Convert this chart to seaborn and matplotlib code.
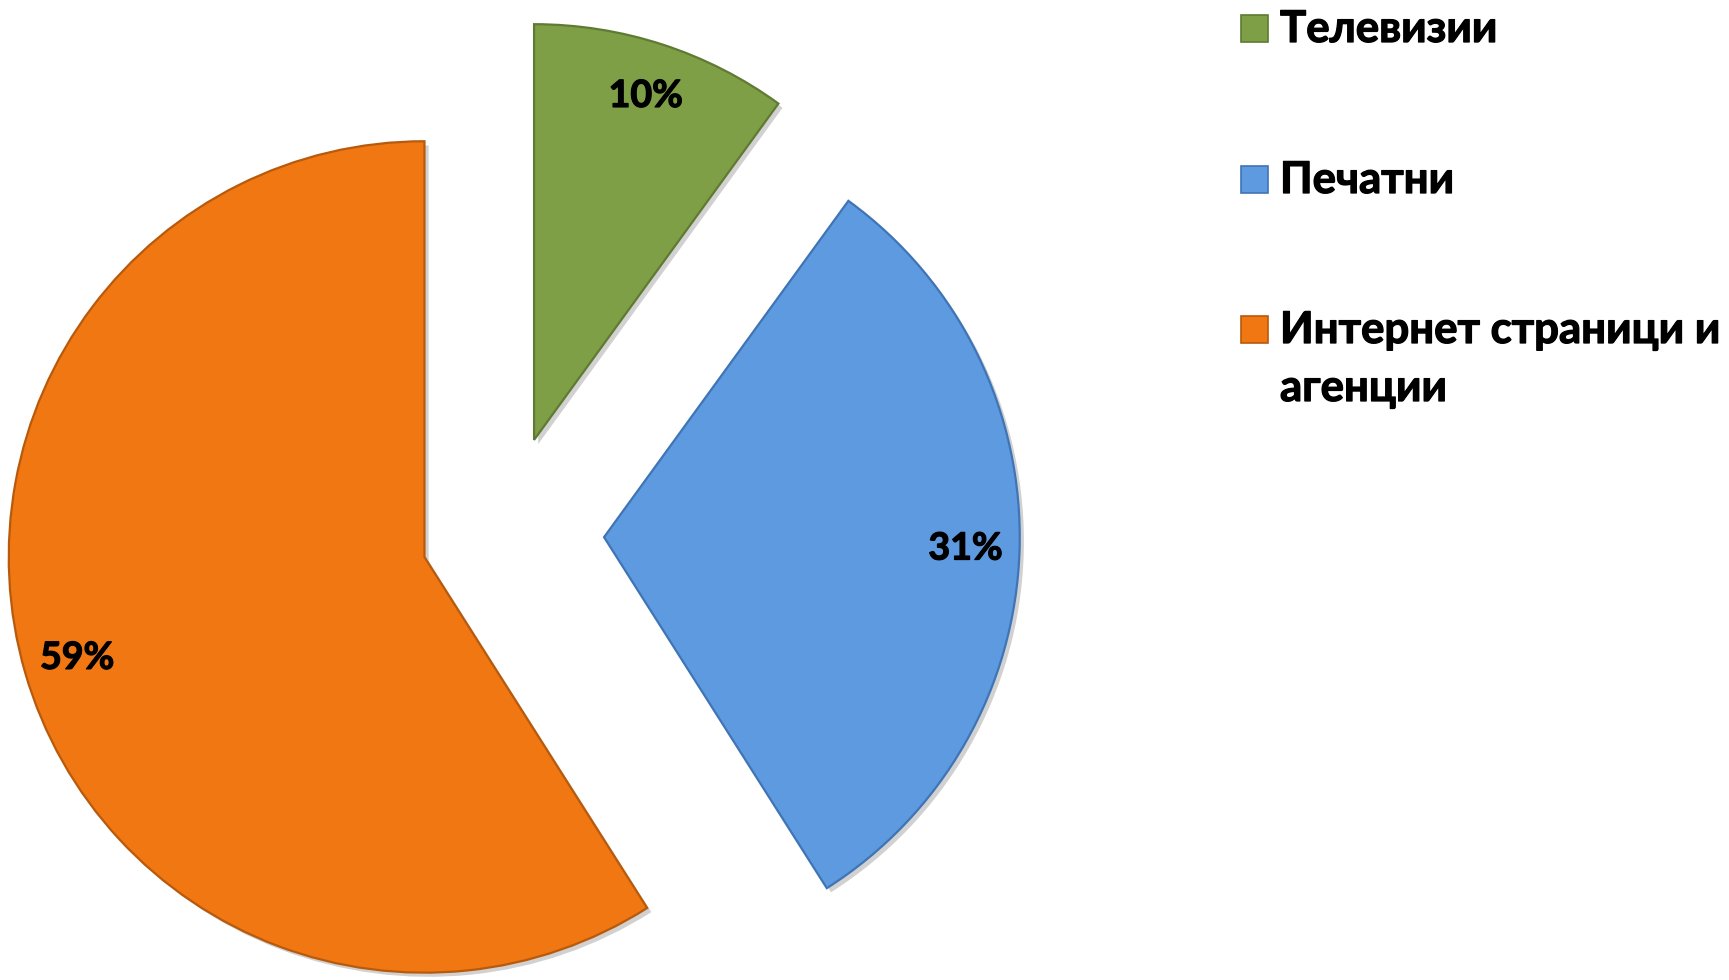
import textwrap
import matplotlib
matplotlib.use("Agg")
import matplotlib.pyplot as plt
import matplotlib.patheffects as pe
from matplotlib.patches import Rectangle
import seaborn as sns

# Media types and their shares (%)
categories = ["Телевизии", "Печатни", "Интернет страници и агенции"]
shares = [10, 31, 59]
colors = ["#7f9f47", "#5e9ae0", "#f07712"]
edge_colors = ["#5f7a32", "#3f74b5", "#b85a0c"]
explode = [0.238, 0.242, 0.198]

sns.set_theme(style="white")
plt.rcParams["font.family"] = ["Lato", "DejaVu Sans"]

W, H = 1729, 980
fig = plt.figure(figsize=(W / 100, H / 100), dpi=100)
ax = fig.add_axes([0, 0, 1, 1])

thick = [pe.withStroke(linewidth=0.9, foreground="black")]

wedges, texts, autotexts = ax.pie(
    shares,
    colors=colors,
    explode=explode,
    startangle=90,
    counterclock=False,
    radius=1.0,
    autopct="%1.0f%%",
    pctdistance=0.87,
    textprops=dict(fontsize=27, fontweight="bold", color="black"),
    wedgeprops=dict(linewidth=1.6),
)
for t in autotexts:
    t.set_path_effects(thick)
for w, ec in zip(wedges, edge_colors):
    w.set_edgecolor(ec)
    w.set_path_effects([
        pe.SimplePatchShadow(offset=(3, -3), shadow_rgbFace="black", alpha=0.18),
        pe.Normal(),
    ])

# Map data units to pixels: radius 1 -> ~416 px, pie centre at (503.5, 534) from top-left
scale = 415.7
cx, cy = 503.5, 534.0
ax.set_xlim(-cx / scale, (W - cx) / scale)
ax.set_ylim(-(H - cy) / scale, cy / scale)
ax.set_aspect("auto")
ax.axis("off")

# Legend on the right: coloured square + bold label (wrapped labels hang below)
sq = 27
first_baselines = [42, 193, 343]
line_gap = 58
for cat, col, ec, base in zip(categories, colors, edge_colors, first_baselines):
    lines = textwrap.wrap(cat, 19)
    fig.patches.append(Rectangle(
        (1241 / W, 1 - base / H), sq / W, sq / H,
        transform=fig.transFigure, facecolor=col, edgecolor=ec, linewidth=1.2,
    ))
    for k, line in enumerate(lines):
        fig.text(1280 / W, 1 - (base + k * line_gap) / H, line,
                 fontsize=31.5, fontweight="bold", color="black",
                 ha="left", va="baseline", path_effects=thick)

fig.savefig("out.png", dpi=100, facecolor="white")
